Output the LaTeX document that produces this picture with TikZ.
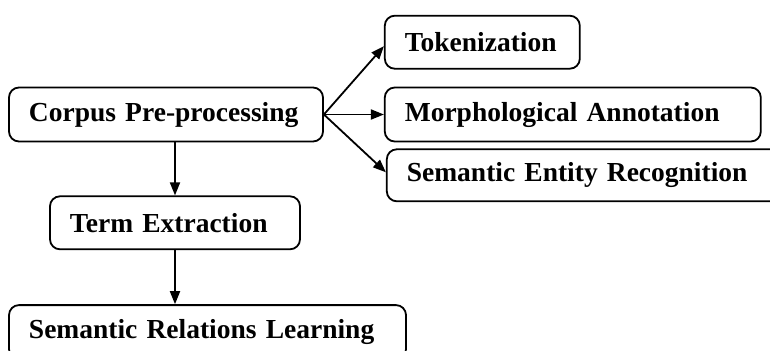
\documentclass[tikz,border=0pt]{standalone}
\usepackage{fontspec}
\setmainfont{Liberation Serif}
\usetikzlibrary{arrows.meta,positioning}
\newcommand{\boxlabelfont}{\fontsize{27.5bp}{33bp}\selectfont\bfseries}

\begin{document}
\begin{tikzpicture}[
  x=1bp,y=1bp,
  node distance=60bp and 60bp,
  every node/.style={font=\boxlabelfont},
  stepbox/.style={draw,rounded corners=10bp,fill=white,minimum height=54bp,align=left,inner xsep=20bp,inner ysep=0pt,line width=1.8bp},
  edge/.style={->,line width=1.8bp},
  >={Triangle[length=13bp,width=10bp]}
]
\useasboundingbox (0,0) rectangle (770,350);
\node[stepbox,text width=274bp] (corpus) at (166,235.5) {Corpus Pre-processing};
\node[stepbox,text width=336bp,right=60bp of corpus] (morph) {Morphological Annotation};
\node[stepbox,text width=155bp,minimum height=53bp,above=17bp of morph.north west,anchor=south west] (tok) {Tokenization};
\node[stepbox,text width=355bp,minimum height=52bp,below=6bp of morph.south west,anchor=north west,xshift=2bp] (ser) {Semantic Entity Recognition};
\node[stepbox,text width=210bp,minimum height=53bp,below=53bp of corpus.south west,anchor=north west,xshift=41bp] (term) {Term Extraction};
\node[stepbox,text width=357bp,below=54bp of term.south west,anchor=north west,xshift=-41bp] (srl) {Semantic Relations Learning};

\draw[edge] (corpus.east) -- ([yshift=-4bp]tok.west);
\draw[edge] (corpus.east) -- (morph.west);
\draw[edge] (corpus.east) -- ([yshift=3bp]ser.west);
\draw[edge] (corpus.south -| term.north) -- (term.north);
\draw[edge] (term.south) -- (term.south |- srl.north);
\end{tikzpicture}
\end{document}
